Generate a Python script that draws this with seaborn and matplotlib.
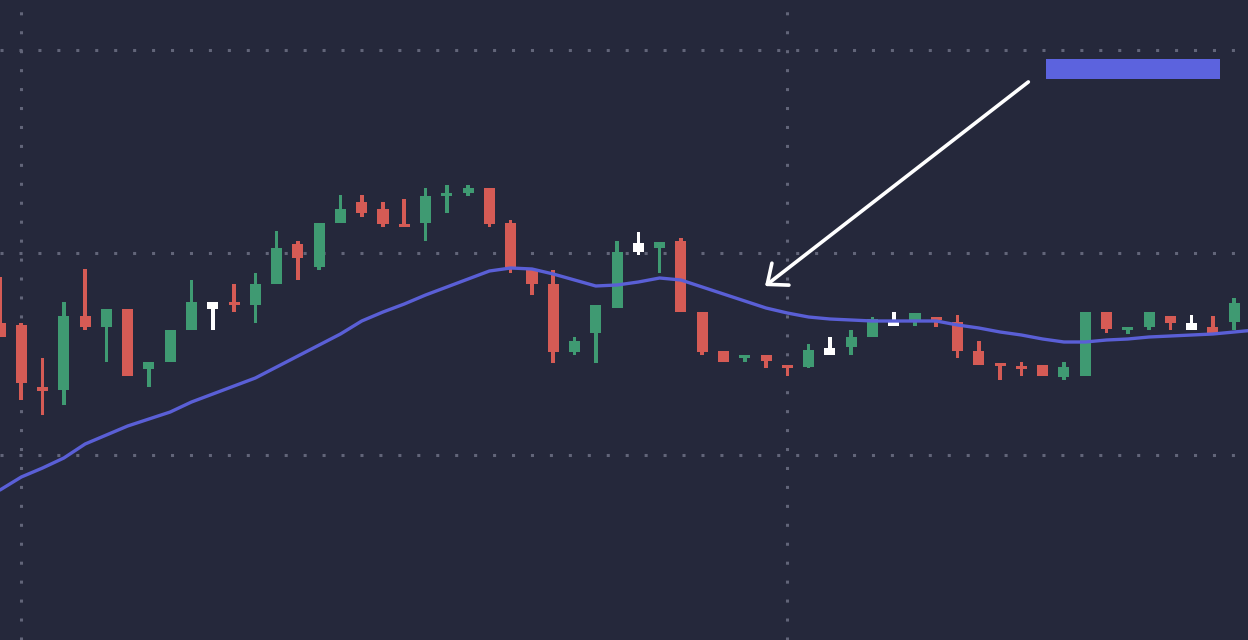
import matplotlib
matplotlib.use('Agg')
import numpy as np
import matplotlib.pyplot as plt
from matplotlib.patches import Rectangle
import seaborn as sns

# candle data, index -1 .. 57
idx = list(range(-1, 58))
opens = [111.7, 111.5, 105.3, 105.0, 112.4, 111.3, 113.1, 107.1, 107.8, 111.0,
         113.8, 113.8, 113.5, 115.6, 119.6, 117.3, 121.7, 123.8, 123.1, 121.6,
         121.7, 124.4, 124.7, 125.2, 121.7, 117.0, 115.6, 108.8, 110.7, 113.2,
         118.8, 119.2, 119.9, 112.8, 108.9, 108.2, 108.5, 107.5, 107.3, 108.5,
         109.3, 110.3, 111.4, 112.0, 112.3, 111.8, 108.9, 107.7, 107.4, 107.5,
         106.3, 106.4, 112.8, 111.0, 111.3, 112.4, 111.0, 111.3, 111.8]
closes = [110.3, 105.7, 104.9, 112.4, 111.3, 113.1, 106.4, 107.8, 111.0, 113.8,
          113.1, 113.5, 115.6, 119.2, 118.2, 121.7, 123.1, 122.7, 121.6, 121.3,
          124.4, 124.7, 125.2, 121.6, 117.3, 115.6, 108.8, 109.9, 113.5, 118.8,
          119.7, 119.8, 112.8, 108.8, 107.8, 108.5, 107.9, 107.2, 109.0, 109.2,
          110.3, 112.1, 111.9, 112.7, 112.0, 108.9, 107.5, 107.4, 107.1, 106.4,
          107.3, 112.8, 111.1, 111.3, 112.8, 111.7, 111.7, 110.7, 113.7]
highs = [116.3, 111.7, 108.2, 113.8, 117.1, 113.1, 113.1, 107.8, 111.0, 116.0,
         113.8, 115.6, 116.7, 120.9, 119.9, 121.7, 124.5, 124.5, 123.8, 124.1,
         125.2, 125.5, 125.5, 125.2, 122.0, 117.0, 117.0, 110.3, 113.5, 119.9,
         120.8, 119.8, 120.2, 112.8, 108.9, 108.5, 108.5, 107.5, 109.6, 110.3,
         111.0, 112.3, 112.8, 112.7, 112.3, 112.5, 109.9, 107.7, 107.8, 107.5,
         107.8, 112.8, 112.8, 111.3, 112.8, 112.4, 112.5, 112.4, 114.2]
lows = [110.3, 104.0, 102.5, 103.5, 111.0, 107.8, 106.4, 105.3, 107.8, 111.0,
        111.0, 112.8, 111.7, 115.6, 116.0, 117.0, 121.7, 122.3, 121.3, 121.3,
        119.9, 122.7, 124.4, 121.3, 116.7, 114.5, 107.7, 108.5, 107.7, 113.2,
        118.5, 116.7, 112.8, 108.5, 107.8, 107.8, 107.2, 106.4, 107.2, 108.5,
        108.5, 110.3, 111.4, 111.4, 111.3, 108.2, 107.5, 106.0, 106.4, 106.4,
        106.0, 106.4, 110.7, 110.6, 111.0, 111.0, 111.0, 110.7, 111.0]
highlighted = [9, 29, 38, 41, 55]

# moving average, index -1 .. 58
ma_idx = list(range(-1, 59))
ma = [95.0, 96.3, 97.2, 98.2, 99.6, 100.5, 101.4, 102.1, 102.8, 103.8,
      104.6, 105.4, 106.2, 107.3, 108.4, 109.5, 110.6, 111.9, 112.8, 113.6,
      114.5, 115.3, 116.1, 116.9, 117.2, 117.1, 116.6, 116.0, 115.4, 115.5,
      115.8, 116.2, 116.0, 115.3, 114.6, 113.9, 113.2, 112.7, 112.3, 112.1,
      112.0, 111.9, 111.9, 111.9, 111.9, 111.5, 111.2, 110.8, 110.5, 110.1,
      109.8, 109.8, 110.0, 110.1, 110.3, 110.4, 110.5, 110.6, 110.8, 111.0]

grid_x = [0, 36]
grid_y = [98.5, 118.7, 139.0]

bg = '#25283b'
up_col = '#3f9a72'
down_col = '#d55b55'
mark_col = '#ffffff'
ma_col = '#5a5fd6'

sns.set_style('dark', {'axes.facecolor': bg, 'figure.facecolor': bg})

fig = plt.figure(figsize=(12.48, 6.4), dpi=100)
ax = fig.add_axes([0, 0, 1, 1])

o = np.array(opens)
c = np.array(closes)
colors = []
for i, (a, b) in zip(idx, zip(opens, closes)):
    if i in highlighted:
        colors.append(mark_col)
    elif b >= a:
        colors.append(up_col)
    else:
        colors.append(down_col)

# wicks then bodies
ax.bar(idx, np.array(highs) - np.array(lows), bottom=lows, width=0.17,
       color=colors, linewidth=0, zorder=2)
ax.bar(idx, np.abs(c - o), bottom=np.minimum(o, c), width=0.52,
       color=colors, linewidth=0, zorder=3)

sns.lineplot(x=ma_idx, y=ma, color=ma_col, linewidth=2.4, ax=ax, zorder=4)

# axis formatting
ax.set_xlim(-1.0, 57.65)
ax.set_ylim(80, 144)
ax.set_xticks(grid_x)
ax.set_yticks(grid_y)
ax.set_xticklabels([])
ax.set_yticklabels([])
ax.tick_params(length=0)
for s in ax.spines.values():
    s.set_visible(False)
ax.grid(True, color='#626579', linestyle=(0, (1, 5.2)), linewidth=2.2, zorder=0)
ax.set_axisbelow(True)

# pointer arrow and label box
ax.annotate('', xy=(0.613, 0.553), xytext=(0.824, 0.872),
            xycoords='axes fraction', textcoords='axes fraction',
            arrowprops=dict(arrowstyle='->,head_length=0.6,head_width=0.5',
                            color='white', lw=2.6, mutation_scale=20,
                            shrinkA=0, shrinkB=0, capstyle='round'),
            zorder=5)
ax.add_patch(Rectangle((0.838, 0.8766), 0.1394, 0.0313, transform=ax.transAxes,
                       facecolor='#5c63de', edgecolor='none', zorder=5))

fig.savefig('out.png', dpi=100, facecolor=bg)
